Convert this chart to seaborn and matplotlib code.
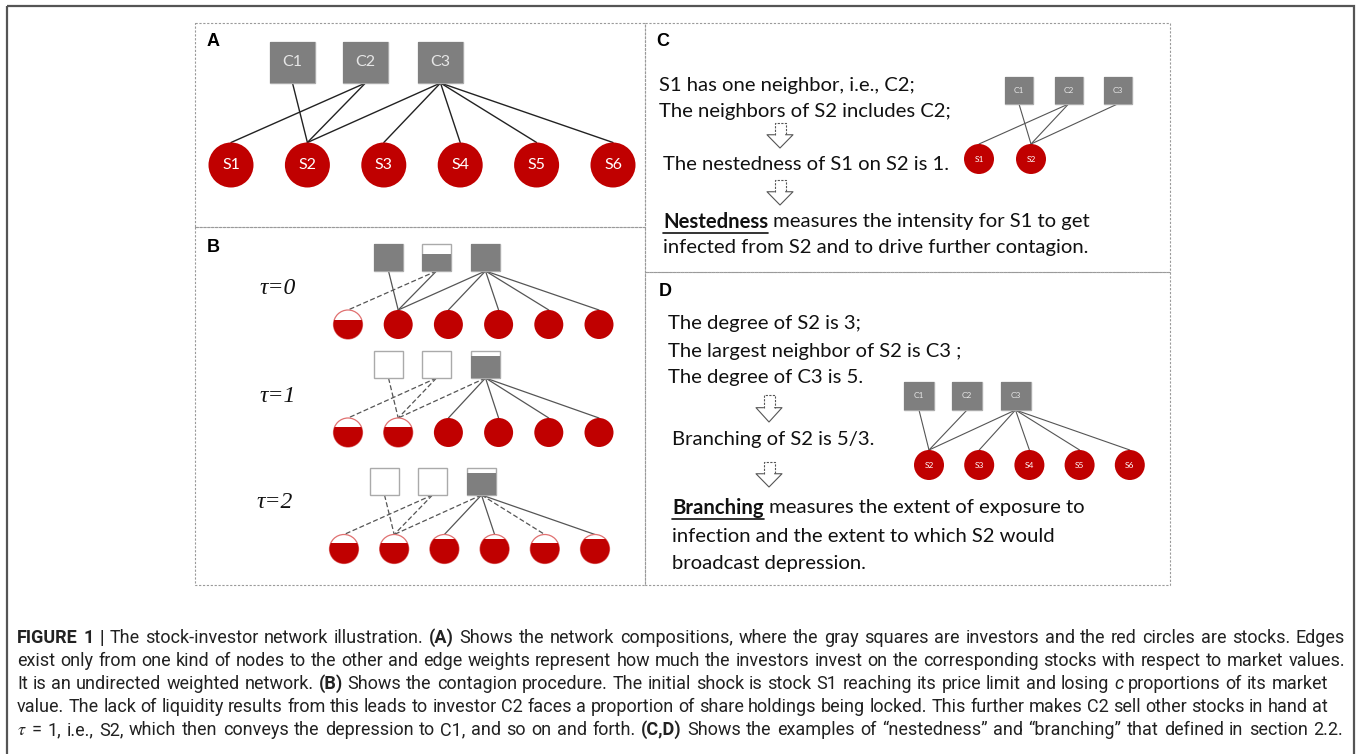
import matplotlib
matplotlib.use("Agg")
import matplotlib.pyplot as plt
from matplotlib.patches import Rectangle, Circle
import seaborn as sns

# ---- data ----
investors = ["C1", "C2", "C3"]
stocks = ["S1", "S2", "S3", "S4", "S5", "S6"]
edges_A = [("C1", "S2"), ("C2", "S1"), ("C2", "S2"), ("C3", "S2"),
           ("C3", "S3"), ("C3", "S4"), ("C3", "S5"), ("C3", "S6")]

# panel B: remaining share (fill height) per step, and which edges are broken (dashed)
tau_steps = [0, 1, 2]
investor_fill = [[1.0, 0.62, 1.0], [0.0, 0.0, 0.83], [0.0, 0.0, 0.81]]
stock_fill = [[0.66, 1, 1, 1, 1, 1],
              [0.69, 0.69, 1, 1, 1, 1],
              [0.71, 0.71, 0.85, 0.85, 0.71, 0.86]]
edge_dashed = [[0, 1, 0, 0, 0, 0, 0, 0],
               [1, 1, 1, 1, 0, 0, 0, 0],
               [1, 1, 1, 1, 0, 0, 1, 0]]

stocks_C = ["S1", "S2"]
edges_C = [("C1", "S2"), ("C2", "S1"), ("C2", "S2"), ("C3", "S2")]
stocks_D = ["S2", "S3", "S4", "S5", "S6"]
edges_D = [("C1", "S2"), ("C2", "S2"), ("C3", "S2"), ("C3", "S3"),
           ("C3", "S4"), ("C3", "S5"), ("C3", "S6")]

text_C = ["S1 has one neighbor, i.e., C2;",
          "The neighbors of S2 includes C2;",
          "The nestedness of S1 on S2 is 1.",
          ("Nestedness", " measures the intensity for S1 to get"),
          "infected from S2 and to drive further contagion."]
text_D = ["The degree of S2 is 3;",
          "The largest neighbor of S2 is C3 ;",
          "The degree of C3 is 5.",
          "Branching of S2 is 5/3.",
          ("Branching", " measures the extent of exposure to"),
          "infection and the extent to which S2 would",
          "broadcast depression."]

B, I, N = {"fontweight": "bold"}, {"fontstyle": "italic"}, {}
caption = [
    [("FIGURE", B), ("1", B), ("|", B), ("The stock-investor network illustration.", N), ("(A)", B),
     ("Shows the network compositions, where the gray squares are investors and the red circles are stocks. Edges", N)],
    [("exist only from one kind of nodes to the other and edge weights represent how much the investors invest on the corresponding stocks with respect to market values.", N)],
    [("It is an undirected weighted network.", N), ("(B)", B),
     ("Shows the contagion procedure. The initial shock is stock S1 reaching its price limit and losing", N),
     ("c", I), ("proportions of its market", N)],
    [("value. The lack of liquidity results from this leads to investor C2 faces a proportion of share holdings being locked. This further makes C2 sell other stocks in hand at", N)],
    [("$\\tau$", N), ("=", N), ("1,", N), ("i.e., S2, which then conveys the depression to C1, and so on and forth.", N),
     ("(C,D)", B), ("Shows the examples of \u201cnestedness\u201d and \u201cbranching\u201d that defined in section 2.2.", N)],
]
caption_right = [1345, 1345, 1328, 1328, 1343]

# ---- figure ----
sns.set_theme(style="white")
plt.rcParams["font.family"] = ["Lato", "DejaVu Sans"]
plt.rcParams["mathtext.fontset"] = "stix"

W, H = 1357, 754
fig = plt.figure(figsize=(W / 100, H / 100), dpi=100)
ax = fig.add_axes([0, 0, 1, 1])
ax.set_xlim(0, W)
ax.set_ylim(H, 0)
ax.axis("off")
renderer = fig.canvas.get_renderer()

RED = "#C00000"
GRAY = "#7F7F7F"

# outer frame and panel boxes
ax.add_patch(Rectangle((7, 6), 1347, 770, fill=False, ec="#555555", lw=1.6, clip_on=False))
box = dict(fill=False, ec="#9a9a9a", lw=0.8, ls=(0, (2, 1.5)))
ax.add_patch(Rectangle((195, 22.5), 450, 204.5, **box))
ax.add_patch(Rectangle((195, 227), 450, 358, **box))
ax.add_patch(Rectangle((645, 22.5), 525, 249.5, **box))
ax.add_patch(Rectangle((645, 272), 525, 313, **box))
for lab, (lx, ly) in zip("ABCD", [(213, 42), (213, 248), (663, 42), (665, 291)]):
    ax.text(lx, ly, lab, fontsize=13, fontweight="bold", family="Liberation Sans",
            ha="center", va="center", color="black")


def network(sq_x, sq_top, sq_w, sq_h, st_x, st_y, r, st_names, edges, fs,
            inv_fill=None, st_fill=None, dashed=None, ecol="#444444", lw=0.9):
    sq_pos = dict(zip(investors, sq_x))
    st_pos = dict(zip(st_names, st_x))
    for k, (a, b) in enumerate(edges):
        ls = (0, (4, 2)) if dashed is not None and dashed[k] else "-"
        ax.plot([sq_pos[a], st_pos[b]], [sq_top + sq_h, st_y - r], color=ecol, lw=lw, ls=ls, zorder=1)
    for n, x in sq_pos.items():
        f = 1.0 if inv_fill is None else inv_fill[investors.index(n)]
        ax.add_patch(Rectangle((x - sq_w / 2, sq_top), sq_w, sq_h, fc="white", ec="#aaaaaa", lw=1.0, zorder=2))
        if f > 0:
            ax.add_patch(Rectangle((x - sq_w / 2, sq_top + sq_h * (1 - f)), sq_w, sq_h * f,
                                   fc=GRAY, ec="none", zorder=3))
        if fs:
            ax.text(x, sq_top + sq_h / 2, n, fontsize=fs, color="#e6e6e6", ha="center", va="center", zorder=4)
    for n, x in st_pos.items():
        f = 1.0 if st_fill is None else st_fill[st_names.index(n)]
        if f < 1:
            ax.add_patch(Circle((x, st_y), r, fc="white", ec="#e07070", lw=0.9, zorder=2))
            c = Circle((x, st_y), r, fc=RED, ec="none", zorder=3)
            ax.add_patch(c)
            clip = Rectangle((x - r - 1, st_y - r + 2 * r * (1 - f)), 2 * r + 2, 2 * r * f + 1,
                             transform=ax.transData)
            c.set_clip_path(clip)
        else:
            ax.add_patch(Circle((x, st_y), r, fc=RED, ec="none", zorder=3))
        if fs:
            ax.text(x, st_y, n, fontsize=fs, color="white", ha="center", va="center", zorder=4)


# panel A
network([292.5, 365.5, 440.5], 42, 45, 41, [231 + 76.4 * i for i in range(6)], 165, 22.5,
        stocks, edges_A, 11.5, ecol="#222222", lw=1.0)

# panel B
sq_tops = [244, 351, 468]
st_ys = [324.5, 432.5, 549]
shifts = [0, 0, -4]
tau_pos = [(278, 288), (278, 397), (275, 503)]
for k, t in enumerate(tau_steps):
    s = shifts[k]
    network([388.5 + s, 436.5 + s, 485.5 + s], sq_tops[k], 29, 27,
            [348 + s + 50.2 * i for i in range(6)], st_ys[k], 14.5, stocks, edges_A, 0,
            inv_fill=investor_fill[k], st_fill=stock_fill[k], dashed=edge_dashed[k],
            ecol="#555555", lw=0.9)
    ax.text(*tau_pos[k], f"\u03c4=" + str(t), fontsize=17, family="Liberation Serif",
            fontstyle="italic", ha="center", va="center", color="#111111")

# panel C / D mini networks
network([1019, 1068.5, 1117.5], 77, 28, 27, [979 + 52 * i for i in range(2)], 159, 15,
        stocks_C, edges_C, 6, ecol="#555555", lw=0.8)
network([919, 967, 1015.5], 382, 30, 28, [929 + 50.2 * i for i in range(5)], 465, 15,
        stocks_D, edges_D, 6, ecol="#555555", lw=0.8)


def hollow_arrow(cx, y0, y1):
    yh = y0 + 0.47 * (y1 - y0)
    sw, hw = 5.5, 13
    ax.plot([cx - sw, cx - sw, cx + sw, cx + sw], [yh, y0, y0, yh], color="#555555", lw=0.8,
            ls=(0, (2, 1.2)))
    ax.plot([cx - sw, cx - hw, cx, cx + hw, cx + sw], [yh, yh, y1, yh, yh], color="#555555", lw=0.8)


TFS = 14.6


def para(lines, xs, ys):
    for line, x, y in zip(lines, xs, ys):
        if isinstance(line, tuple):
            t = ax.text(x, y, line[0], fontsize=TFS, fontweight="bold", ha="left", va="center", color="#111111")
            w = t.get_window_extent(renderer).width
            ax.plot([x, x + w], [y + 11, y + 11], color="#111111", lw=1.2)
            ax.text(x + w, y, line[1], fontsize=TFS, ha="left", va="center", color="#111111")
        else:
            ax.text(x, y, line, fontsize=TFS, ha="left", va="center", color="#111111")


para(text_C, [659, 659, 663, 663, 663], [85, 112, 164, 222, 247])
hollow_arrow(780, 123, 148)
hollow_arrow(780, 180, 205)
para(text_D, [668, 668, 668, 672, 672, 672, 672], [324, 351, 378, 439, 508, 536, 563])
hollow_arrow(769, 395, 422)
hollow_arrow(769, 462, 487)

# caption: pick a size so the tightest line fits with normal spacing, then justify
CAP_FAM = ["Roboto", "DejaVu Sans"]
cap_words = []
for line in caption:
    words = []
    for chunk, style in line:
        for wd in chunk.split(" "):
            words.append((wd, style))
    cap_words.append(words)


def tw(s, size, **kw):
    t = ax.text(0, 0, s, fontsize=size, family=CAP_FAM, **kw)
    w = t.get_window_extent(renderer).width
    t.remove()
    return w


sp10 = tw("a a", 10) - tw("aa", 10)
scale = 20.0
for words, xr in zip(cap_words, caption_right):
    tot = sum(tw(wd, 10, **style) for wd, style in words) + sp10 * (len(words) - 1)
    scale = min(scale, 10.0 * (xr - 17) / tot)
CFS = scale

cap_y = [638, 661, 684, 707, 730]
for words, y, xr in zip(cap_words, cap_y, caption_right):
    texts, widths = [], []
    for wd, style in words:
        t = ax.text(0, y, wd, fontsize=CFS, family=CAP_FAM, ha="left",
                    va="center", color="#222222", **style)
        texts.append(t)
        widths.append(t.get_window_extent(renderer).width)
    gap = (xr - 17 - sum(widths)) / (len(words) - 1)
    x = 17
    for t, w in zip(texts, widths):
        t.set_x(x)
        x += w + gap

fig.savefig("out.png", dpi=100, facecolor="white")
